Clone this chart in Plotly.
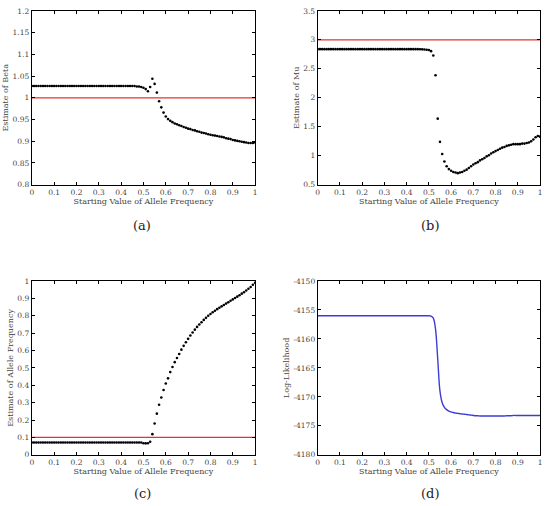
import plotly.graph_objects as go

# ---------------- data ----------------
start_freq = [round(i * 0.01, 2) for i in range(101)]

beta_est = [
    1.027, 1.027, 1.027, 1.027, 1.027, 1.027, 1.027, 1.027, 1.027, 1.027,
    1.027, 1.027, 1.027, 1.027, 1.027, 1.027, 1.027, 1.027, 1.027, 1.027,
    1.027, 1.027, 1.027, 1.027, 1.027, 1.027, 1.027, 1.027, 1.027, 1.027,
    1.027, 1.027, 1.027, 1.027, 1.027, 1.027, 1.027, 1.027, 1.027, 1.027,
    1.027, 1.027, 1.027, 1.027, 1.027, 1.027, 1.027, 1.026, 1.026, 1.025,
    1.023, 1.020, 1.015, 1.025, 1.044, 1.032, 1.012, 0.992, 0.978, 0.966,
    0.957, 0.951, 0.947, 0.944, 0.941, 0.939, 0.937, 0.935, 0.933, 0.931,
    0.929, 0.928, 0.926, 0.925, 0.923, 0.922, 0.920, 0.919, 0.918, 0.916,
    0.915, 0.914, 0.913, 0.912, 0.911, 0.910, 0.909, 0.907, 0.906, 0.905,
    0.903, 0.902, 0.901, 0.900, 0.899, 0.898, 0.897, 0.896, 0.896, 0.896,
    0.897,
]

mu_est = [
    2.84, 2.84, 2.84, 2.84, 2.84, 2.84, 2.84, 2.84, 2.84, 2.84,
    2.84, 2.84, 2.84, 2.84, 2.84, 2.84, 2.84, 2.84, 2.84, 2.84,
    2.84, 2.84, 2.84, 2.84, 2.84, 2.84, 2.84, 2.84, 2.84, 2.84,
    2.84, 2.84, 2.84, 2.84, 2.84, 2.84, 2.84, 2.84, 2.84, 2.84,
    2.84, 2.84, 2.84, 2.84, 2.84, 2.84, 2.838, 2.836, 2.834, 2.83,
    2.825, 2.805, 2.73, 2.39, 1.64, 1.24, 1.03, 0.90, 0.82, 0.77,
    0.74, 0.72, 0.71, 0.70, 0.71, 0.72, 0.74, 0.76, 0.79, 0.82,
    0.85, 0.87, 0.89, 0.92, 0.94, 0.96, 0.99, 1.01, 1.04, 1.06,
    1.08, 1.10, 1.12, 1.14, 1.15, 1.17, 1.18, 1.19, 1.20, 1.20,
    1.20, 1.20, 1.21, 1.21, 1.22, 1.23, 1.25, 1.28, 1.32, 1.34,
    1.33,
]

allele_est = [
    0.071, 0.071, 0.071, 0.071, 0.071, 0.071, 0.071, 0.071, 0.071, 0.071,
    0.071, 0.071, 0.071, 0.071, 0.071, 0.071, 0.071, 0.071, 0.071, 0.071,
    0.071, 0.071, 0.071, 0.071, 0.071, 0.071, 0.071, 0.071, 0.071, 0.071,
    0.071, 0.071, 0.071, 0.071, 0.071, 0.071, 0.071, 0.071, 0.071, 0.071,
    0.071, 0.071, 0.071, 0.071, 0.071, 0.071, 0.071, 0.071, 0.071, 0.071,
    0.067, 0.066, 0.067, 0.075, 0.119, 0.180, 0.237, 0.288, 0.330, 0.373,
    0.410, 0.440, 0.476, 0.505, 0.533, 0.557, 0.580, 0.605, 0.627, 0.648,
    0.667, 0.686, 0.704, 0.720, 0.736, 0.750, 0.763, 0.776, 0.788, 0.800,
    0.810, 0.820, 0.829, 0.838, 0.846, 0.854, 0.862, 0.870, 0.878, 0.886,
    0.894, 0.902, 0.910, 0.918, 0.927, 0.935, 0.945, 0.955, 0.965, 0.978,
    0.990,
]

loglik = [
    -4156.0, -4156.0, -4156.0, -4156.0, -4156.0, -4156.0, -4156.0, -4156.0, -4156.0, -4156.0,
    -4156.0, -4156.0, -4156.0, -4156.0, -4156.0, -4156.0, -4156.0, -4156.0, -4156.0, -4156.0,
    -4156.0, -4156.0, -4156.0, -4156.0, -4156.0, -4156.0, -4156.0, -4156.0, -4156.0, -4156.0,
    -4156.0, -4156.0, -4156.0, -4156.0, -4156.0, -4156.0, -4156.0, -4156.0, -4156.0, -4156.0,
    -4156.0, -4156.0, -4156.0, -4156.0, -4156.0, -4156.0, -4156.0, -4156.0, -4156.0, -4156.0,
    -4156.0, -4156.05, -4156.4, -4158.3, -4163.5, -4169.0, -4171.0, -4171.8, -4172.2, -4172.45,
    -4172.6, -4172.7, -4172.8, -4172.85, -4172.9, -4172.95, -4173.0, -4173.05, -4173.1, -4173.15,
    -4173.2, -4173.25, -4173.25, -4173.3, -4173.3, -4173.3, -4173.3, -4173.3, -4173.3, -4173.3,
    -4173.3, -4173.3, -4173.3, -4173.3, -4173.3, -4173.25, -4173.25, -4173.25, -4173.2, -4173.2,
    -4173.2, -4173.2, -4173.2, -4173.2, -4173.2, -4173.2, -4173.2, -4173.2, -4173.2, -4173.2,
    -4173.2,
]

true_beta = 1.0
true_mu = 3.0
true_allele = 0.1

x_ticks = [0, 0.1, 0.2, 0.3, 0.4, 0.5, 0.6, 0.7, 0.8, 0.9, 1]
x_ticktext = ["0", "0.1", "0.2", "0.3", "0.4", "0.5", "0.6", "0.7", "0.8", "0.9", "1"]
beta_ticks = [0.8, 0.85, 0.9, 0.95, 1.0, 1.05, 1.1, 1.15, 1.2]
beta_ticktext = ["0.8", "0.85", "0.9", "0.95", "1", "1.05", "1.1", "1.15", "1.2"]
mu_ticks = [0.5, 1, 1.5, 2, 2.5, 3, 3.5]
mu_ticktext = ["0.5", "1", "1.5", "2", "2.5", "3", "3.5"]
allele_ticks = [0, 0.1, 0.2, 0.3, 0.4, 0.5, 0.6, 0.7, 0.8, 0.9, 1]
allele_ticktext = ["0", "0.1", "0.2", "0.3", "0.4", "0.5", "0.6", "0.7", "0.8", "0.9", "1"]
ll_ticks = [-4180, -4175, -4170, -4165, -4160, -4155, -4150]
ll_ticktext = ["-4180", "-4175", "-4170", "-4165", "-4160", "-4155", "-4150"]

panel_labels = ["(a)", "(b)", "(c)", "(d)"]
x_title = "Starting Value of Allele Frequency"
y_titles = ["Estimate of Beta", "Estimate of Mu", "Estimate of Allele Frequency", "Log-Likelihood"]

# ---------------- figure ----------------
W, H = 546, 506
FONT = "DejaVu Serif"
TXT = "#444444"

def px_x(p):
    return p / W

def px_y(p):
    return 1 - p / H

left_dom = [px_x(30), px_x(255)]
right_dom = [px_x(318), px_x(542)]
top_dom = [px_y(184), px_y(7)]
bot_dom = [px_y(459), px_y(282)]

fig = go.Figure()

red = "rgb(228,50,50)"
dot = dict(color="black", size=2.6, symbol="circle")

# (a)
fig.add_trace(go.Scatter(x=[0, 1], y=[true_beta, true_beta], mode="lines",
                         line=dict(color=red, width=1.2), xaxis="x", yaxis="y"))
fig.add_trace(go.Scatter(x=start_freq, y=beta_est, mode="markers", marker=dot,
                         xaxis="x", yaxis="y"))
# (b)
fig.add_trace(go.Scatter(x=[0, 1], y=[true_mu, true_mu], mode="lines",
                         line=dict(color=red, width=1.2), xaxis="x2", yaxis="y2"))
fig.add_trace(go.Scatter(x=start_freq, y=mu_est, mode="markers", marker=dot,
                         xaxis="x2", yaxis="y2"))
# (c)
fig.add_trace(go.Scatter(x=[0, 1], y=[true_allele, true_allele], mode="lines",
                         line=dict(color=red, width=1.2), xaxis="x3", yaxis="y3"))
fig.add_trace(go.Scatter(x=start_freq, y=allele_est, mode="markers", marker=dot,
                         xaxis="x3", yaxis="y3"))
# (d)
fig.add_trace(go.Scatter(x=start_freq, y=loglik, mode="lines",
                         line=dict(color="rgb(60,60,215)", width=1.4, shape="spline"),
                         xaxis="x4", yaxis="y4"))

tickfont = dict(family=FONT, size=7.5, color=TXT)
titlefont = dict(family=FONT, size=8, color=TXT)

def xaxis(dom, anchor):
    return dict(domain=dom, anchor=anchor, range=[0, 1], tickvals=x_ticks, ticktext=x_ticktext,
                ticks="inside", ticklen=3, tickcolor="black", tickwidth=0.8,
                showline=True, linecolor="black", linewidth=1, mirror="ticks",
                showgrid=False, zeroline=False, tickfont=tickfont,
                title=dict(text=x_title, font=titlefont, standoff=1))

def yaxis(dom, anchor, rng, tv, tt, title):
    return dict(domain=dom, anchor=anchor, range=rng, tickvals=tv, ticktext=tt,
                ticks="inside", ticklen=3, tickcolor="black", tickwidth=0.8,
                showline=True, linecolor="black", linewidth=1, mirror="ticks",
                showgrid=False, zeroline=False, tickfont=tickfont,
                title=dict(text=title, font=titlefont, standoff=2))

fig.update_layout(
    width=W, height=H,
    margin=dict(l=0, r=0, t=0, b=0),
    paper_bgcolor="white", plot_bgcolor="white",
    showlegend=False,
    font=dict(family=FONT, color=TXT),
    xaxis=xaxis(left_dom, "y"),
    yaxis=yaxis(top_dom, "x", [0.8, 1.2], beta_ticks, beta_ticktext, y_titles[0]),
    xaxis2=xaxis(right_dom, "y2"),
    yaxis2=yaxis(top_dom, "x2", [0.5, 3.5], mu_ticks, mu_ticktext, y_titles[1]),
    xaxis3=xaxis(left_dom, "y3"),
    yaxis3=yaxis(bot_dom, "x3", [0, 1], allele_ticks, allele_ticktext, y_titles[2]),
    xaxis4=xaxis(right_dom, "y4"),
    yaxis4=yaxis(bot_dom, "x4", [-4180, -4150], ll_ticks, ll_ticktext, y_titles[3]),
)

label_pos = [(141, 226), (431, 226), (142, 498), (431, 498)]
for lab, (lx, ly) in zip(panel_labels, label_pos):
    fig.add_annotation(text=lab, x=px_x(lx), y=px_y(ly), xref="paper", yref="paper",
                       showarrow=False, xanchor="center", yanchor="middle",
                       font=dict(family=FONT, size=13, color="#222222"))

fig.write_html("out.html")
